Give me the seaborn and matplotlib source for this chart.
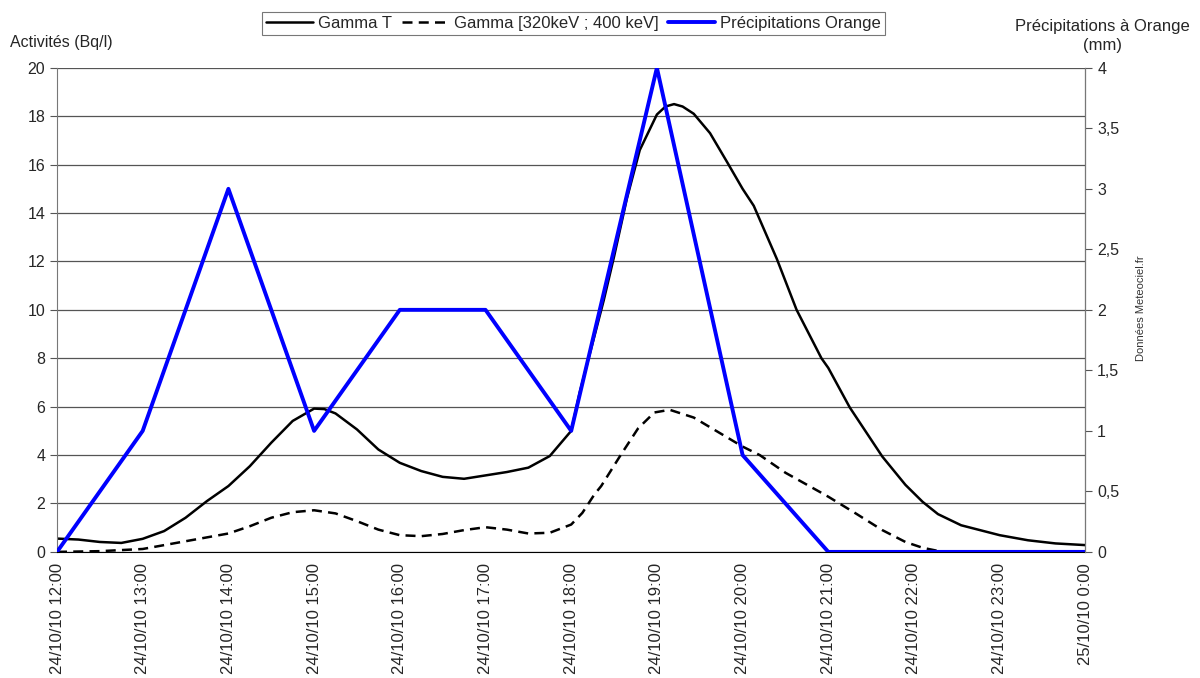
import matplotlib
matplotlib.use("Agg")
import matplotlib.pyplot as plt
import seaborn as sns
import pandas as pd

# heures depuis 24/10/10 00:00
heures_ticks = list(range(12, 25))
labels_ticks = ["24/10/10 12:00", "24/10/10 13:00", "24/10/10 14:00", "24/10/10 15:00",
                "24/10/10 16:00", "24/10/10 17:00", "24/10/10 18:00", "24/10/10 19:00",
                "24/10/10 20:00", "24/10/10 21:00", "24/10/10 22:00", "24/10/10 23:00",
                "25/10/10 0:00"]

# Gamma T (Bq/l)
gamma_t_h = [12.0, 12.25, 12.5, 12.75, 13.0, 13.25, 13.5, 13.75, 14.0, 14.25, 14.5, 14.75,
             15.0, 15.12, 15.25, 15.5, 15.75, 16.0, 16.25, 16.5, 16.75, 17.0, 17.25, 17.5,
             17.75, 18.0, 18.1, 18.27, 18.38, 18.5, 18.65, 18.8, 19.0, 19.1, 19.2, 19.3,
             19.43, 19.62, 19.82, 20.0, 20.13, 20.4, 20.63, 20.92, 21.0, 21.25, 21.63,
             21.9, 22.1, 22.28, 22.55, 23.0, 23.33, 23.65, 24.0]
gamma_t = [0.55, 0.51, 0.41, 0.37, 0.54, 0.86, 1.41, 2.1, 2.72, 3.54, 4.51, 5.41,
           5.92, 5.9, 5.72, 5.06, 4.23, 3.68, 3.34, 3.1, 3.02, 3.16, 3.3, 3.48,
           3.96, 5.0, 6.6, 8.9, 10.4, 12.2, 14.6, 16.6, 18.07, 18.4, 18.5, 18.4,
           18.1, 17.3, 16.1, 15.0, 14.3, 12.1, 10.0, 8.0, 7.6, 5.97, 3.94,
           2.77, 2.07, 1.56, 1.1, 0.69, 0.48, 0.35, 0.28]

# Gamma [320keV ; 400 keV] (Bq/l)
gamma_b_h = [12.0, 12.5, 13.0, 13.5, 14.0, 14.25, 14.5, 14.75, 15.0, 15.25, 15.5, 15.75,
             16.0, 16.25, 16.5, 16.75, 17.0, 17.25, 17.5, 17.75, 18.0, 18.13, 18.27,
             18.35, 18.57, 18.78, 18.97, 19.15, 19.43, 19.82, 20.0, 20.2, 20.5, 20.93,
             21.0, 21.32, 21.63, 21.9, 22.1, 22.28, 22.42]
gamma_b = [0.0, 0.03, 0.12, 0.44, 0.76, 1.06, 1.41, 1.64, 1.72, 1.59, 1.27, 0.92,
           0.69, 0.65, 0.74, 0.9, 1.02, 0.92, 0.76, 0.79, 1.13, 1.61, 2.37,
           2.72, 3.96, 5.1, 5.76, 5.87, 5.55, 4.73, 4.35, 4.0, 3.27, 2.42,
           2.28, 1.59, 0.9, 0.41, 0.17, 0.04, 0.0]

# Précipitations Orange (mm)
precip_h = list(range(12, 25))
precip = [0, 1, 3, 1, 2, 2, 1, 4, 0.8, 0, 0, 0, 0]

sns.set_style("white")
plt.rcParams["font.family"] = ["Liberation Sans", "DejaVu Sans"]
plt.rcParams["font.size"] = 11.5

fig = plt.figure(figsize=(12, 6.78), dpi=100)
ax = fig.add_axes([0.0475, 0.186, 0.857, 0.714])
ax2 = ax.twinx()

df_t = pd.DataFrame({"h": gamma_t_h, "v": gamma_t})
df_b = pd.DataFrame({"h": gamma_b_h, "v": gamma_b})
df_p = pd.DataFrame({"h": precip_h, "v": precip})

sns.lineplot(data=df_t, x="h", y="v", ax=ax, color="black", lw=1.8, label="Gamma T")
sns.lineplot(data=df_b, x="h", y="v", ax=ax, color="black", lw=1.8,
             label="Gamma [320keV ; 400 keV]")
ax.lines[1].set_linestyle((0, (4, 2.5)))
sns.lineplot(data=df_p, x="h", y="v", ax=ax2, color="#0000ff", lw=2.8,
             label="Précipitations Orange")

ax.set_xlim(12, 24)
ax.set_ylim(0, 20)
ax2.set_ylim(0, 4)
ax.set_yticks(range(0, 21, 2))
ax2.set_yticks([0, 0.5, 1, 1.5, 2, 2.5, 3, 3.5, 4])
ax2.set_yticklabels(["0", "0,5", "1", "1,5", "2", "2,5", "3", "3,5", "4"])
ax.set_xticks(heures_ticks)
ax.set_xticklabels(labels_ticks, rotation=90)
ax.set_xlabel("")
ax.set_ylabel("")
ax2.set_ylabel("")

ax.grid(axis="y", color="#555555", lw=0.9)
ax.grid(axis="x", visible=False)
ax2.grid(False)

for a in (ax, ax2):
    a.spines["top"].set_visible(False)
    a.tick_params(direction="out", length=5, width=0.8, color="#555555", labelsize=11.5)
ax.tick_params(axis="x", labelsize=12, pad=3)
ax.spines["left"].set_color("#777777")
ax.spines["bottom"].set_color("black")
ax2.spines["left"].set_visible(False)
ax2.spines["bottom"].set_visible(False)
ax2.spines["right"].set_color("#777777")

# légende commune
h1, l1 = ax.get_legend_handles_labels()
h2, l2 = ax2.get_legend_handles_labels()
ax.get_legend().remove()
ax2.get_legend().remove()
leg = fig.legend(h1 + h2, l1 + l2, ncol=3, loc="center", bbox_to_anchor=(0.478, 0.965),
                 frameon=True, fancybox=False, handlelength=2.8, handletextpad=0.3,
                 columnspacing=0.6, borderpad=0.25, fontsize=12)
leg.get_frame().set_edgecolor("#555555")
leg.get_frame().set_linewidth(0.8)

fig.text(0.008, 0.938, "Activités (Bq/l)", ha="left", va="center", fontsize=11.5)
fig.text(0.919, 0.947, "Précipitations à Orange\n(mm)", ha="center", va="center",
         fontsize=12, linespacing=1.35)
fig.text(0.951, 0.545, "Données Meteociel.fr", rotation=90, ha="center", va="center",
         fontsize=8, color="#333333")

fig.savefig("out.png", dpi=100)
